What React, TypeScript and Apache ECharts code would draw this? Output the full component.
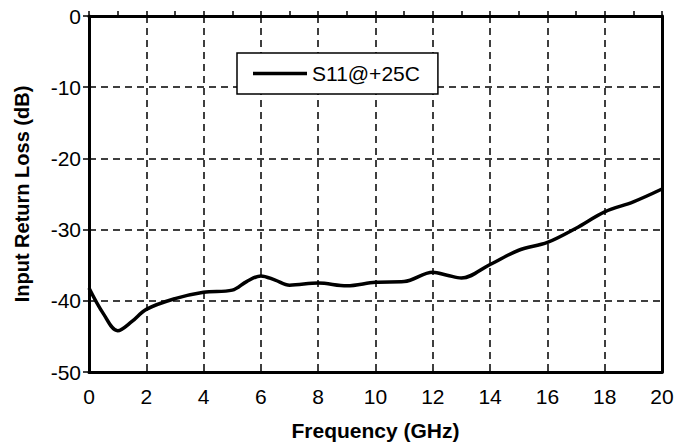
import React, { useEffect, useRef } from "react";
import * as echarts from "echarts";

const freqGHz = [0, 0.5, 1, 1.5, 2, 3, 4, 5, 5.5, 6, 6.5, 7, 8, 9, 10, 11, 12, 12.5, 13, 14, 15, 16, 17, 18, 19, 20];
const s11dB = [-38.2, -41.8, -44.2, -42.9, -41.2, -39.7, -38.8, -38.5, -37.3, -36.5, -37.1, -37.8, -37.5, -37.9, -37.4, -37.3, -36.0, -36.4, -36.8, -34.9, -32.9, -31.8, -29.8, -27.5, -26.1, -24.3];
const seriesName = "S11@+25C";
const xTitle = "Frequency (GHz)";
const yTitle = "Input Return Loss (dB)";

const FONT = "'Liberation Sans', Arial, sans-serif";

export default function App() {
  const ref = useRef<HTMLDivElement>(null);
  useEffect(() => {
    if (!ref.current) return;
    const chart = echarts.init(ref.current, null, { renderer: "svg" });
    const dashed = { show: true, lineStyle: { color: "#000", width: 1.5, type: [7, 5] as any } };
    chart.setOption({
      animation: false,
      backgroundColor: "#fff",
      textStyle: { fontFamily: FONT },
      grid: { left: 89, right: 27, top: 16, bottom: 76, containLabel: false },
      legend: {
        show: true,
        left: 237,
        top: 53,
        orient: "horizontal",
        backgroundColor: "#fff",
        borderColor: "#000",
        borderWidth: 1.5,
        borderRadius: 0,
        padding: [10, 18, 10, 16],
        itemWidth: 54,
        itemHeight: 16,
        itemGap: 7,
        textStyle: { fontSize: 21, color: "#000", fontFamily: FONT },
        data: [{ name: seriesName, icon: "path://M0,6.5 L54,6.5 L54,10 L0,10 Z" }],
      },
      xAxis: [
        {
          type: "value",
          position: "bottom",
          min: 0,
          max: 20,
          interval: 2,
          axisLine: { show: true, onZero: false, lineStyle: { color: "#000", width: 3 } },
          axisTick: { show: false },
          axisLabel: { show: true, fontSize: 21, color: "#000", margin: 14, fontFamily: FONT },
          splitLine: dashed,
          name: xTitle,
          nameLocation: "middle",
          nameGap: 48,
          nameTextStyle: { fontSize: 21, fontWeight: "bold", color: "#000", fontFamily: FONT },
        },
        {
          type: "value",
          position: "top",
          min: 0,
          max: 20,
          interval: 1,
          axisLine: { show: true, onZero: false, lineStyle: { color: "#000", width: 3 } },
          axisTick: { show: true, inside: false, length: 5, lineStyle: { color: "#000", width: 1.5 } },
          axisLabel: { show: false },
          splitLine: { show: false },
        },
      ],
      yAxis: [
        {
          type: "value",
          position: "left",
          min: -50,
          max: 0,
          interval: 10,
          axisLine: { show: true, onZero: false, lineStyle: { color: "#000", width: 3 } },
          axisTick: { show: true, inside: false, length: 6, lineStyle: { color: "#000", width: 1.5 } },
          axisLabel: { show: true, fontSize: 21, color: "#000", margin: 8, fontFamily: FONT },
          splitLine: dashed,
          name: yTitle,
          nameLocation: "middle",
          nameGap: 57,
          nameRotate: 90,
          nameTextStyle: { fontSize: 20, fontWeight: "bold", color: "#000", fontFamily: FONT },
        },
        {
          type: "value",
          position: "right",
          min: -50,
          max: 0,
          interval: 10,
          axisLine: { show: true, onZero: false, lineStyle: { color: "#000", width: 3 } },
          axisTick: { show: false },
          axisLabel: { show: false },
          splitLine: { show: false },
        },
      ],
      series: [
        {
          name: seriesName,
          type: "line",
          xAxisIndex: 0,
          yAxisIndex: 0,
          smooth: 0.35,
          symbol: "none",
          showSymbol: false,
          lineStyle: { color: "#000", width: 3.5 },
          itemStyle: { color: "#000" },
          data: freqGHz.map((f, i) => [f, s11dB[i]]),
          z: 3,
        },
      ],
    });
    return () => chart.dispose();
  }, []);
  return (
    <div
      ref={ref}
      style={{ position: "absolute", left: 0, top: 0, width: 689, height: 448 }}
    />
  );
}
